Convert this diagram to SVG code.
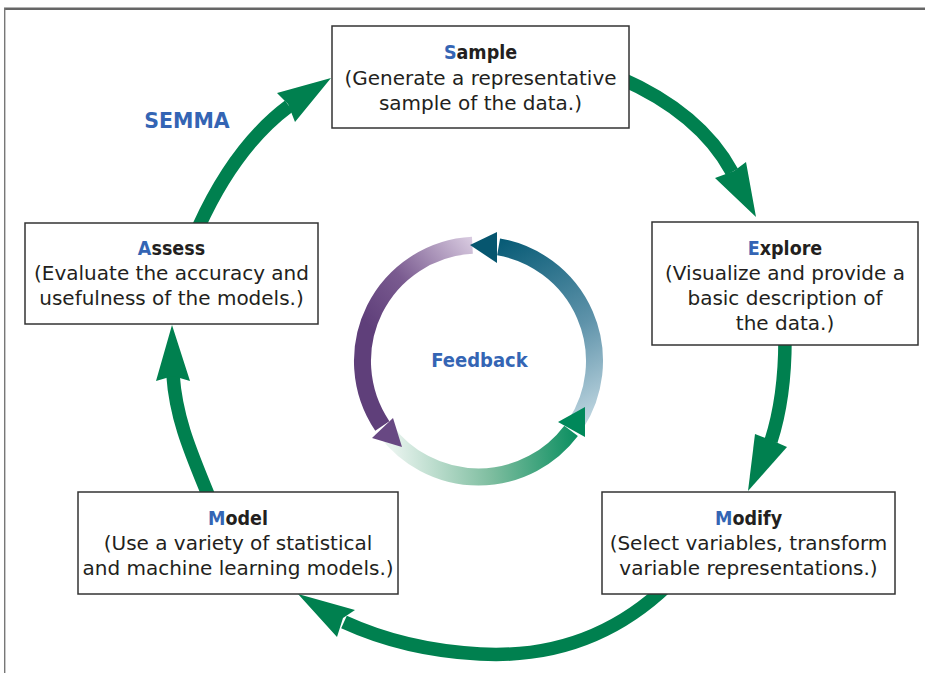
<svg xmlns="http://www.w3.org/2000/svg" width="925" height="673" viewBox="0 0 925 673">
<defs>
<style>
.box{fill:#fff;stroke:#333;stroke-width:1.5}
.title{font-family:"DejaVu Sans Condensed","DejaVu Sans",sans-serif;font-stretch:condensed;font-weight:bold;font-size:19.5px;fill:#231f20;text-anchor:middle}
.ini{fill:#3465b4}
.body{font-family:"DejaVu Sans","Liberation Sans",sans-serif;font-size:20px;fill:#231f20;text-anchor:middle}
.shaft{fill:none;stroke:#00804f;stroke-width:13.5}
.head{fill:#00804f}
.lbl{font-family:"DejaVu Sans Condensed","DejaVu Sans",sans-serif;font-stretch:condensed;font-weight:bold;fill:#3465b4;text-anchor:middle}
.fb{fill:none;stroke-width:17}
</style>
<linearGradient id="gTeal" gradientUnits="userSpaceOnUse" x1="582" y1="428" x2="488" y2="245">
<stop offset="0" stop-color="#c2d8e2"/>
<stop offset="0.45" stop-color="#5f93aa"/>
<stop offset="1" stop-color="#065a75"/>
</linearGradient>
<linearGradient id="gPurple" gradientUnits="userSpaceOnUse" x1="478" y1="240" x2="372" y2="330">
<stop offset="0" stop-color="#ddd0e4"/>
<stop offset="0.6" stop-color="#7a5b90"/>
<stop offset="1" stop-color="#5f3f7a"/>
</linearGradient>
<linearGradient id="gGreen" gradientUnits="userSpaceOnUse" x1="392" y1="440" x2="585" y2="425">
<stop offset="0" stop-color="#e8f3ee"/>
<stop offset="0.5" stop-color="#7dbd9f"/>
<stop offset="1" stop-color="#008a5a"/>
</linearGradient>
</defs>

<g id="frame" fill="none">
<line x1="4" y1="8.7" x2="925" y2="8.7" stroke="#666" stroke-width="2.5"/>
<line x1="4.7" y1="8" x2="4.7" y2="673" stroke="#777" stroke-width="1.4"/>
</g>

<g id="connectors">
<path class="shaft" d="M199,226 C220,180 250,135 289,106"/>
<polygon class="head" points="331,78 277,93 288,104 295,122"/>
<path class="shaft" d="M620,78 C675,102 712,135 732,172"/>
<polygon class="head" points="756,217 715,178 734,171 746,162"/>
<path class="shaft" d="M785,340 C785,380 781,410 771,441"/>
<polygon class="head" points="748,491 755,434 771,440 787,447"/>
<path class="shaft" d="M668,585 Q590,660 480,654 Q405,650 344,622"/>
<polygon class="head" points="298,594 355,610 343,618 337,637"/>
<path class="shaft" d="M209,497 C192,455 176,420 173,375"/>
<polygon class="head" points="172,325 156,381 173,376 190,381"/>
</g>

<g id="feedback">
<path class="fb" stroke="url(#gTeal)" d="M575.8,424.2 A116,116 0 0 0 498.6,246.8"/>
<path class="fb" stroke="url(#gPurple)" d="M472.4,245.2 A116,116 0 0 0 382.3,425.9"/>
<path class="fb" stroke="url(#gGreen)" d="M385.9,430.8 A116,116 0 0 0 571.1,430.8"/>
<polygon fill="#06566f" points="470,245 497,232 497,263"/>
<polygon fill="#684883" points="402,447 372,438 393,418"/>
<polygon fill="#00885a" points="585,407 558,422 585,437"/>
<text class="lbl" x="479.5" y="367" font-size="20">Feedback</text>
</g>

<g id="semma">
<text x="187" y="128" font-family="DejaVu Sans, Liberation Sans, sans-serif" font-weight="bold" font-size="20.5" fill="#3465b4" text-anchor="middle">SEMMA</text>
</g>

<g id="sample">
<rect class="box" x="332" y="26" width="297" height="102"/>
<text class="title" x="480.5" y="59"><tspan class="ini">S</tspan>ample</text>
<text class="body" x="480.5" y="85">(Generate a representative</text>
<text class="body" x="480.5" y="110">sample of the data.)</text>
</g>

<g id="explore">
<rect class="box" x="652" y="222" width="266" height="123"/>
<text class="title" x="785" y="255"><tspan class="ini">E</tspan>xplore</text>
<text class="body" x="785" y="280">(Visualize and provide a</text>
<text class="body" x="785" y="305">basic description of</text>
<text class="body" x="785" y="330">the data.)</text>
</g>

<g id="modify">
<rect class="box" x="602" y="492" width="293" height="102"/>
<text class="title" x="748.5" y="525"><tspan class="ini">M</tspan>odify</text>
<text class="body" x="748.5" y="550">(Select variables, transform</text>
<text class="body" x="748.5" y="575">variable representations.)</text>
</g>

<g id="model">
<rect class="box" x="78" y="492" width="320" height="102"/>
<text class="title" x="238" y="525"><tspan class="ini">M</tspan>odel</text>
<text class="body" x="238" y="550">(Use a variety of statistical</text>
<text class="body" x="238" y="575">and machine learning models.)</text>
</g>

<g id="assess">
<rect class="box" x="25" y="223" width="293" height="101"/>
<text class="title" x="171.5" y="255"><tspan class="ini">A</tspan>ssess</text>
<text class="body" x="171.5" y="280">(Evaluate the accuracy and</text>
<text class="body" x="171.5" y="305">usefulness of the models.)</text>
</g>
</svg>
